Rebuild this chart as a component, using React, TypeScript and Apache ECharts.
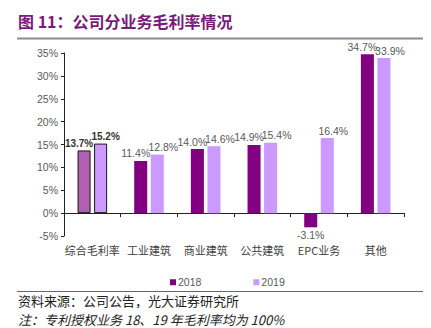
import React, { useEffect, useRef } from "react";
import * as echarts from "echarts";

const categories = ["综合毛利率", "工业建筑", "商业建筑", "公共建筑", "EPC业务", "其他"];
const values2018 = [13.7, 11.4, 14.0, 14.9, -3.1, 34.7];
const values2019 = [15.2, 12.8, 14.6, 15.4, 16.4, 33.9];
const seriesNames = ["2018", "2019"];
const titleText = "图 11：公司分业务毛利率情况";
const sourceText = "资料来源：公司公告，光大证券研究所";
const noteText = "注：专利授权业务 18、19 年毛利率均为 100%";

const C2018 = "#800080";
const C2019 = "#CC99FF";
const C2018_FIRST = "#B060B0";

export default function App() {
  const ref = useRef<HTMLDivElement>(null);
  useEffect(() => {
    if (!ref.current) return;
    const chart = echarts.init(ref.current, null, { renderer: "svg" });
    const labelBase = (dx: number) => ({
      show: true,
      position: "top",
      color: "#595959",
      fontFamily: "Liberation Sans, Arial, sans-serif",
      fontSize: 10.5,
      distance: 2,
      offset: [dx, 0],
      formatter: (p: any) => p.value.toFixed(1) + "%",
    });
    const mk = (vals: number[], firstColor: string, firstDx: number) =>
      vals.map((v, i) => {
        const item: any = { value: v };
        if (i === 0) {
          item.itemStyle = { color: firstColor, borderColor: "#1a1a1a", borderWidth: 1 };
          item.label = { fontWeight: "bold", color: "#333", fontSize: 10, offset: [firstDx, 0] };
        }
        if (v < 0) item.label = { position: "bottom", offset: [0, 0] };
        return item;
      });
    chart.setOption({
      animation: false,
      textStyle: { fontFamily: "Liberation Sans, Noto Sans CJK SC, sans-serif" },
      grid: { left: 64, right: 27, top: 53, bottom: 92 },
      legend: {
        data: seriesNames,
        left: 165,
        top: 272,
        itemWidth: 6,
        itemHeight: 6,
        itemGap: 52,
        icon: "rect",
        textStyle: { color: "#595959", fontSize: 10.5, padding: [0, 0, 0, -3] },
      },
      xAxis: {
        type: "category",
        data: categories,
        axisLine: { lineStyle: { color: "#222" } },
        axisTick: { show: true, length: 4, lineStyle: { color: "#222" } },
        axisLabel: {
          color: "#404040",
          fontSize: 11,
          fontFamily: "Noto Sans CJK SC, sans-serif",
          margin: 8,
          interval: 0,
        },
      },
      yAxis: {
        type: "value",
        min: -5,
        max: 35,
        interval: 5,
        axisLine: { show: true, lineStyle: { color: "#222" } },
        axisTick: { show: true, length: 3, lineStyle: { color: "#222" } },
        splitLine: { show: false },
        axisLabel: {
          color: "#595959",
          fontSize: 10.5,
          margin: 6,
          formatter: (v: number) => v + "%",
        },
      },
      series: [
        {
          name: seriesNames[0],
          type: "bar",
          data: mk(values2018, C2018_FIRST, -5),
          itemStyle: { color: C2018 },
          barWidth: "23%",
          barGap: "27%",
          label: labelBase(-5),
        },
        {
          name: seriesNames[1],
          type: "bar",
          data: mk(values2019, C2019, 5),
          itemStyle: { color: C2019 },
          barWidth: "23%",
          label: labelBase(6),
        },
      ],
      graphic: [
        {
          type: "text",
          left: 18,
          top: 13,
          style: {
            text: titleText,
            fill: "#7A1A7A",
            font: "bold 16px 'Noto Sans CJK SC', sans-serif",
          },
        },
        {
          type: "line",
          shape: { x1: 17, y1: 38.5, x2: 423, y2: 38.5 },
          style: { stroke: "#8c8c8c", lineWidth: 2 },
        },
        {
          type: "line",
          shape: { x1: 17, y1: 291.5, x2: 423, y2: 291.5 },
          style: { stroke: "#666", lineWidth: 1 },
        },
        {
          type: "text",
          left: 18,
          top: 294,
          style: {
            text: sourceText,
            fill: "#222",
            font: "13px 'Noto Sans CJK SC', sans-serif",
          },
        },
        {
          type: "text",
          left: 18,
          top: 313,
          style: {
            text: noteText,
            fill: "#222",
            font: "italic 13px 'Noto Sans CJK SC', sans-serif",
          },
        },
      ],
    });
    return () => chart.dispose();
  }, []);
  return <div ref={ref} style={{ width: 431, height: 328, position: "absolute", left: 0, top: 0 }} />;
}
